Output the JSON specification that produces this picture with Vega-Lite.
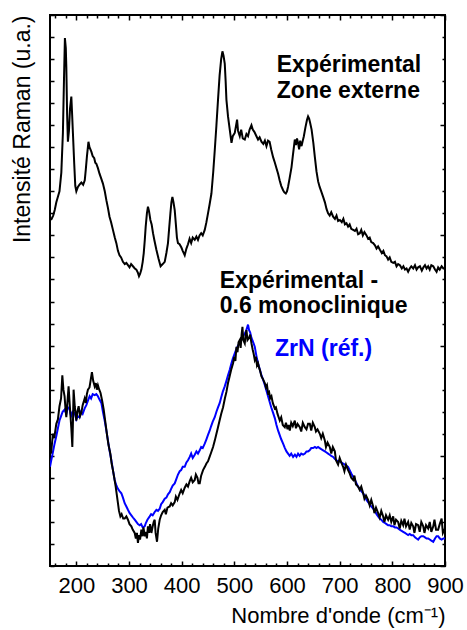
{
  "$schema": "https://vega.github.io/schema/vega-lite/v6.json",
  "width": 395,
  "height": 551,
  "autosize": "none",
  "padding": {"left": 50, "top": 15, "right": 22, "bottom": 64},
  "config": {
    "font": "Liberation Sans",
    "view": {"stroke": "black", "strokeWidth": 2},
    "axis": {"grid": false, "domain": false, "tickColor": "black", "tickWidth": 1.5, "labelColor": "black", "titleColor": "black"}
  },
  "datasets": {
    "top": [
      {"x":152,"y":3.14},{"x":156,"y":3.18},{"x":159,"y":3.23},{"x":162,"y":3.30},{"x":165,"y":3.35},{"x":168,"y":3.40},{"x":171.5,"y":3.57},{"x":174.5,"y":3.93},{"x":176.5,"y":4.4},{"x":178.3,"y":4.79},{"x":180,"y":4.7},{"x":181,"y":4.53},{"x":182.5,"y":4.1},{"x":184,"y":3.85},{"x":186,"y":3.95},{"x":188,"y":4.15},{"x":190.5,"y":4.26},{"x":192,"y":4.1},{"x":193.5,"y":3.93},{"x":196,"y":3.65},{"x":198,"y":3.45},{"x":200,"y":3.40},{"x":203,"y":3.44},{"x":206,"y":3.46},{"x":209.5,"y":3.48},{"x":213,"y":3.46},{"x":216,"y":3.50},{"x":218,"y":3.6},{"x":220,"y":3.71},{"x":223,"y":3.85},{"x":225,"y":3.80},{"x":228.5,"y":3.76},{"x":231,"y":3.72},{"x":234,"y":3.70},{"x":236,"y":3.66},{"x":238,"y":3.65},{"x":241,"y":3.61},{"x":244,"y":3.56},{"x":247,"y":3.52},{"x":250.5,"y":3.47},{"x":254,"y":3.40},{"x":257,"y":3.32},{"x":260,"y":3.25},{"x":263,"y":3.17},{"x":266,"y":3.12},{"x":269.5,"y":3.05},{"x":273,"y":2.98},{"x":276,"y":2.93},{"x":279,"y":2.86},{"x":282,"y":2.82},{"x":285,"y":2.80},{"x":288.5,"y":2.76},{"x":292,"y":2.74},{"x":295,"y":2.75},{"x":298,"y":2.73},{"x":301,"y":2.71},{"x":304,"y":2.74},{"x":307.5,"y":2.72},{"x":311,"y":2.70},{"x":314,"y":2.69},{"x":317,"y":2.66},{"x":319,"y":2.63},{"x":321,"y":2.65},{"x":323.5,"y":2.69},{"x":326,"y":2.76},{"x":328,"y":2.84},{"x":330,"y":2.96},{"x":331.7,"y":3.08},{"x":334,"y":3.2},{"x":336,"y":3.26},{"x":338,"y":3.22},{"x":340.6,"y":3.14},{"x":343,"y":3.10},{"x":345.6,"y":3.02},{"x":348,"y":2.96},{"x":352,"y":2.87},{"x":356,"y":2.79},{"x":360,"y":2.72},{"x":364,"y":2.74},{"x":367.8,"y":2.76},{"x":371,"y":2.84},{"x":374,"y":2.93},{"x":376,"y":3.05},{"x":378.6,"y":3.20},{"x":380.5,"y":3.30},{"x":382.4,"y":3.35},{"x":384.5,"y":3.30},{"x":386.8,"y":3.23},{"x":389,"y":3.10},{"x":391,"y":2.98},{"x":393,"y":2.93},{"x":396,"y":2.92},{"x":399.5,"y":2.89},{"x":402,"y":2.86},{"x":405.8,"y":2.82},{"x":409,"y":2.88},{"x":412,"y":2.92},{"x":415,"y":2.97},{"x":418,"y":2.93},{"x":421,"y":2.98},{"x":424.8,"y":2.96},{"x":428,"y":2.99},{"x":431,"y":2.96},{"x":434,"y":3.00},{"x":437,"y":3.02},{"x":440,"y":3.00},{"x":443.8,"y":3.05},{"x":447,"y":3.12},{"x":450,"y":3.20},{"x":453,"y":3.28},{"x":456.5,"y":3.38},{"x":460,"y":3.58},{"x":462.8,"y":3.77},{"x":466,"y":4.0},{"x":469,"y":4.23},{"x":472,"y":4.45},{"x":475,"y":4.6},{"x":477.4,"y":4.67},{"x":479.5,"y":4.63},{"x":481.8,"y":4.56},{"x":483.5,"y":4.4},{"x":485,"y":4.23},{"x":488,"y":4.08},{"x":491.3,"y":3.96},{"x":494.6,"y":3.84},{"x":497,"y":3.9},{"x":500.8,"y":3.93},{"x":503,"y":3.99},{"x":505.2,"y":4.05},{"x":507,"y":3.95},{"x":510.3,"y":3.90},{"x":513,"y":3.96},{"x":516,"y":3.88},{"x":519.8,"y":3.87},{"x":523,"y":3.92},{"x":526,"y":3.90},{"x":529,"y":3.96},{"x":532.5,"y":4.00},{"x":535,"y":3.96},{"x":538,"y":3.94},{"x":542,"y":3.90},{"x":545,"y":3.87},{"x":548,"y":3.89},{"x":551.5,"y":3.85},{"x":555,"y":3.83},{"x":558,"y":3.86},{"x":561,"y":3.81},{"x":564,"y":3.86},{"x":567,"y":3.85},{"x":570,"y":3.78},{"x":573.6,"y":3.71},{"x":577,"y":3.66},{"x":580,"y":3.61},{"x":583.1,"y":3.56},{"x":586,"y":3.50},{"x":589,"y":3.45},{"x":592.6,"y":3.41},{"x":595,"y":3.39},{"x":597.7,"y":3.38},{"x":600,"y":3.40},{"x":602,"y":3.44},{"x":605,"y":3.52},{"x":608.6,"y":3.62},{"x":611,"y":3.72},{"x":614.8,"y":3.87},{"x":617,"y":3.82},{"x":619,"y":3.88},{"x":621,"y":3.84},{"x":623,"y":3.78},{"x":625,"y":3.86},{"x":627.6,"y":3.81},{"x":630,"y":3.86},{"x":632,"y":3.90},{"x":635,"y":3.98},{"x":638,"y":4.05},{"x":640,"y":4.08},{"x":642,"y":4.06},{"x":644,"y":4.02},{"x":646.7,"y":3.96},{"x":650,"y":3.84},{"x":652.9,"y":3.71},{"x":656,"y":3.58},{"x":659.1,"y":3.49},{"x":662,"y":3.44},{"x":665,"y":3.40},{"x":668.6,"y":3.35},{"x":672,"y":3.30},{"x":675,"y":3.24},{"x":678,"y":3.20},{"x":681,"y":3.18},{"x":684,"y":3.21},{"x":687.6,"y":3.17},{"x":691,"y":3.15},{"x":694,"y":3.18},{"x":697,"y":3.13},{"x":700.4,"y":3.14},{"x":704,"y":3.12},{"x":707,"y":3.15},{"x":710,"y":3.10},{"x":713,"y":3.11},{"x":716,"y":3.08},{"x":719,"y":3.10},{"x":722,"y":3.06},{"x":725.6,"y":3.05},{"x":729,"y":3.04},{"x":732,"y":3.06},{"x":735,"y":3.01},{"x":738.3,"y":3.02},{"x":741,"y":3.05},{"x":744,"y":3.00},{"x":747,"y":3.03},{"x":751,"y":3.00},{"x":754,"y":2.97},{"x":757,"y":2.98},{"x":760,"y":2.94},{"x":763.6,"y":2.93},{"x":767,"y":2.91},{"x":770,"y":2.88},{"x":773,"y":2.90},{"x":776.4,"y":2.87},{"x":780,"y":2.84},{"x":783,"y":2.86},{"x":786,"y":2.82},{"x":789,"y":2.81},{"x":792,"y":2.78},{"x":795,"y":2.80},{"x":798,"y":2.76},{"x":801.7,"y":2.75},{"x":805,"y":2.76},{"x":808,"y":2.72},{"x":811,"y":2.74},{"x":814.4,"y":2.73},{"x":818,"y":2.70},{"x":821,"y":2.72},{"x":824,"y":2.69},{"x":827,"y":2.70},{"x":830,"y":2.67},{"x":833,"y":2.70},{"x":836,"y":2.72},{"x":839.7,"y":2.70},{"x":843,"y":2.73},{"x":846,"y":2.69},{"x":849,"y":2.71},{"x":852.4,"y":2.72},{"x":856,"y":2.68},{"x":859,"y":2.71},{"x":862,"y":2.73},{"x":865,"y":2.70},{"x":868,"y":2.72},{"x":871,"y":2.69},{"x":874,"y":2.73},{"x":877.7,"y":2.72},{"x":881,"y":2.69},{"x":884,"y":2.67},{"x":887,"y":2.71},{"x":890,"y":2.69},{"x":893.6,"y":2.72},{"x":897,"y":2.70},{"x":900,"y":2.70}
    ],
    "bottom": [
      {"x":152,"y":1.02},{"x":155.5,"y":1.20},{"x":158,"y":1.16},{"x":162,"y":1.29},{"x":165,"y":1.33},{"x":168,"y":1.45},{"x":171,"y":1.52},{"x":173.4,"y":1.73},{"x":175.5,"y":1.60},{"x":177.7,"y":1.54},{"x":179.5,"y":1.42},{"x":181,"y":1.35},{"x":183,"y":1.48},{"x":185.3,"y":1.63},{"x":187,"y":1.50},{"x":188.5,"y":1.39},{"x":190.5,"y":1.25},{"x":192.4,"y":1.08},{"x":193.8,"y":1.35},{"x":194.8,"y":1.60},{"x":197,"y":1.45},{"x":200,"y":1.32},{"x":202,"y":1.40},{"x":204.4,"y":1.45},{"x":207,"y":1.36},{"x":209.5,"y":1.39},{"x":212,"y":1.46},{"x":215.8,"y":1.52},{"x":218,"y":1.48},{"x":220,"y":1.56},{"x":222,"y":1.60},{"x":225,"y":1.62},{"x":227,"y":1.68},{"x":229.6,"y":1.76},{"x":232,"y":1.68},{"x":234.8,"y":1.63},{"x":237,"y":1.66},{"x":239,"y":1.60},{"x":241,"y":1.64},{"x":243.5,"y":1.60},{"x":246,"y":1.57},{"x":249,"y":1.50},{"x":251.9,"y":1.42},{"x":255,"y":1.31},{"x":258,"y":1.20},{"x":261,"y":1.10},{"x":264.6,"y":1.02},{"x":267,"y":0.93},{"x":269.5,"y":0.87},{"x":272,"y":0.80},{"x":274.7,"y":0.72},{"x":277,"y":0.64},{"x":279,"y":0.57},{"x":281,"y":0.50},{"x":283.6,"y":0.45},{"x":286,"y":0.47},{"x":289,"y":0.43},{"x":291.8,"y":0.43},{"x":295,"y":0.45},{"x":298,"y":0.42},{"x":301,"y":0.38},{"x":304.5,"y":0.36},{"x":307,"y":0.33},{"x":310.8,"y":0.30},{"x":313,"y":0.25},{"x":315,"y":0.30},{"x":317,"y":0.21},{"x":319,"y":0.28},{"x":321,"y":0.24},{"x":323.5,"y":0.33},{"x":325.5,"y":0.27},{"x":327.5,"y":0.35},{"x":329.8,"y":0.27},{"x":332,"y":0.31},{"x":334,"y":0.25},{"x":336,"y":0.36},{"x":338,"y":0.30},{"x":340,"y":0.38},{"x":342.5,"y":0.30},{"x":345,"y":0.36},{"x":347,"y":0.40},{"x":348.8,"y":0.42},{"x":350.5,"y":0.30},{"x":353.2,"y":0.22},{"x":355.5,"y":0.34},{"x":358.3,"y":0.42},{"x":361,"y":0.46},{"x":364,"y":0.49},{"x":367.8,"y":0.51},{"x":370,"y":0.47},{"x":373,"y":0.53},{"x":377.3,"y":0.54},{"x":380,"y":0.57},{"x":383,"y":0.55},{"x":386.8,"y":0.58},{"x":389,"y":0.63},{"x":392,"y":0.60},{"x":396.3,"y":0.66},{"x":399,"y":0.69},{"x":402,"y":0.66},{"x":405.8,"y":0.71},{"x":409,"y":0.74},{"x":412,"y":0.72},{"x":415.3,"y":0.77},{"x":418,"y":0.80},{"x":421,"y":0.76},{"x":424.8,"y":0.78},{"x":427,"y":0.83},{"x":430,"y":0.80},{"x":432,"y":0.75},{"x":434.3,"y":0.75},{"x":437,"y":0.82},{"x":440.6,"y":0.87},{"x":444,"y":0.90},{"x":447,"y":0.93},{"x":450,"y":0.95},{"x":453,"y":0.99},{"x":456,"y":1.03},{"x":459.6,"y":1.08},{"x":463,"y":1.14},{"x":466,"y":1.20},{"x":469,"y":1.26},{"x":472,"y":1.32},{"x":475,"y":1.38},{"x":478.6,"y":1.44},{"x":482,"y":1.52},{"x":485,"y":1.58},{"x":488,"y":1.66},{"x":491,"y":1.72},{"x":494,"y":1.78},{"x":497.6,"y":1.84},{"x":500,"y":1.90},{"x":502,"y":1.86},{"x":504,"y":1.99},{"x":506,"y":1.94},{"x":508,"y":2.03},{"x":510.3,"y":2.05},{"x":512,"y":1.98},{"x":513.8,"y":2.10},{"x":515.4,"y":2.17},{"x":517,"y":2.05},{"x":519.8,"y":2.02},{"x":521.5,"y":2.10},{"x":523,"y":2.14},{"x":525,"y":2.05},{"x":528,"y":2.07},{"x":530,"y":2.10},{"x":532.5,"y":2.02},{"x":535,"y":1.96},{"x":536.5,"y":1.93},{"x":538.8,"y":1.87},{"x":541,"y":1.90},{"x":543,"y":1.82},{"x":545,"y":1.84},{"x":547,"y":1.80},{"x":549,"y":1.77},{"x":551.5,"y":1.72},{"x":554,"y":1.70},{"x":557.8,"y":1.66},{"x":560,"y":1.62},{"x":562,"y":1.64},{"x":564,"y":1.57},{"x":566,"y":1.58},{"x":568,"y":1.52},{"x":570.5,"y":1.54},{"x":573,"y":1.48},{"x":576.8,"y":1.43},{"x":579,"y":1.44},{"x":582,"y":1.38},{"x":586.3,"y":1.32},{"x":589,"y":1.35},{"x":592,"y":1.28},{"x":595.8,"y":1.26},{"x":598,"y":1.30},{"x":601,"y":1.24},{"x":603,"y":1.28},{"x":605.3,"y":1.23},{"x":608,"y":1.30},{"x":611,"y":1.27},{"x":614.8,"y":1.32},{"x":617,"y":1.25},{"x":620,"y":1.29},{"x":624.3,"y":1.26},{"x":627,"y":1.22},{"x":630,"y":1.30},{"x":633.8,"y":1.26},{"x":637,"y":1.24},{"x":640,"y":1.29},{"x":643.3,"y":1.29},{"x":646,"y":1.23},{"x":649,"y":1.30},{"x":652.8,"y":1.26},{"x":655,"y":1.22},{"x":658,"y":1.24},{"x":662.3,"y":1.20},{"x":665,"y":1.16},{"x":668,"y":1.20},{"x":671.8,"y":1.14},{"x":674,"y":1.08},{"x":677,"y":1.12},{"x":681.3,"y":1.08},{"x":684,"y":1.02},{"x":687,"y":1.08},{"x":690.8,"y":1.04},{"x":693,"y":0.96},{"x":697,"y":0.92},{"x":700,"y":0.98},{"x":703,"y":0.94},{"x":706.6,"y":0.90},{"x":709,"y":0.86},{"x":712,"y":0.92},{"x":716,"y":0.87},{"x":719,"y":0.84},{"x":722,"y":0.80},{"x":725.6,"y":0.78},{"x":728,"y":0.82},{"x":731,"y":0.74},{"x":735,"y":0.72},{"x":738,"y":0.69},{"x":741,"y":0.72},{"x":744.6,"y":0.66},{"x":747,"y":0.61},{"x":750,"y":0.64},{"x":754,"y":0.60},{"x":757,"y":0.55},{"x":760,"y":0.60},{"x":763.6,"y":0.54},{"x":766,"y":0.48},{"x":769,"y":0.53},{"x":773,"y":0.48},{"x":776,"y":0.44},{"x":779,"y":0.50},{"x":782.6,"y":0.45},{"x":785,"y":0.40},{"x":788,"y":0.46},{"x":792,"y":0.42},{"x":795,"y":0.46},{"x":798,"y":0.40},{"x":801.6,"y":0.45},{"x":804,"y":0.37},{"x":807,"y":0.42},{"x":811,"y":0.40},{"x":814,"y":0.34},{"x":817,"y":0.41},{"x":820.6,"y":0.37},{"x":823,"y":0.43},{"x":826,"y":0.36},{"x":830,"y":0.40},{"x":833,"y":0.33},{"x":836,"y":0.39},{"x":839.6,"y":0.36},{"x":842,"y":0.30},{"x":845,"y":0.38},{"x":849,"y":0.37},{"x":852,"y":0.31},{"x":855,"y":0.40},{"x":858.7,"y":0.36},{"x":861,"y":0.30},{"x":864,"y":0.37},{"x":868,"y":0.34},{"x":871,"y":0.40},{"x":874,"y":0.31},{"x":877.7,"y":0.36},{"x":880,"y":0.42},{"x":883,"y":0.33},{"x":887,"y":0.33},{"x":890,"y":0.38},{"x":893.6,"y":0.43},{"x":896,"y":0.30},{"x":900,"y":0.34}
    ],
    "zrn": [
      {"x":150,"y":0.90},{"x":152,"y":0.95},{"x":155,"y":1.02},{"x":158.7,"y":1.11},{"x":162,"y":1.18},{"x":165,"y":1.25},{"x":168,"y":1.32},{"x":171,"y":1.36},{"x":174,"y":1.40},{"x":177.7,"y":1.42},{"x":181,"y":1.38},{"x":184,"y":1.44},{"x":187,"y":1.43},{"x":190,"y":1.36},{"x":193,"y":1.40},{"x":196.7,"y":1.39},{"x":200,"y":1.33},{"x":203,"y":1.36},{"x":206.2,"y":1.35},{"x":209,"y":1.40},{"x":212,"y":1.38},{"x":215.8,"y":1.43},{"x":219,"y":1.46},{"x":222,"y":1.50},{"x":225.3,"y":1.54},{"x":228,"y":1.52},{"x":231,"y":1.56},{"x":234.8,"y":1.55},{"x":238,"y":1.56},{"x":241,"y":1.54},{"x":244,"y":1.51},{"x":247.5,"y":1.48},{"x":250.5,"y":1.40},{"x":253.8,"y":1.32},{"x":257,"y":1.23},{"x":260,"y":1.14},{"x":263,"y":1.05},{"x":266.5,"y":0.96},{"x":269.5,"y":0.87},{"x":272.8,"y":0.78},{"x":276,"y":0.73},{"x":279,"y":0.70},{"x":282,"y":0.68},{"x":285.5,"y":0.66},{"x":288.5,"y":0.62},{"x":291.8,"y":0.57},{"x":295,"y":0.54},{"x":298,"y":0.51},{"x":301.3,"y":0.48},{"x":304.5,"y":0.46},{"x":307.5,"y":0.44},{"x":310.8,"y":0.42},{"x":314,"y":0.40},{"x":317,"y":0.38},{"x":320.3,"y":0.37},{"x":323,"y":0.38},{"x":326,"y":0.35},{"x":329.8,"y":0.36},{"x":332,"y":0.39},{"x":335,"y":0.42},{"x":339.3,"y":0.45},{"x":342,"y":0.47},{"x":345,"y":0.46},{"x":348.8,"y":0.49},{"x":352,"y":0.51},{"x":355,"y":0.50},{"x":358.3,"y":0.52},{"x":361,"y":0.56},{"x":364,"y":0.58},{"x":367.8,"y":0.61},{"x":371,"y":0.62},{"x":374,"y":0.65},{"x":377.3,"y":0.67},{"x":380,"y":0.70},{"x":383,"y":0.73},{"x":386.8,"y":0.75},{"x":390,"y":0.79},{"x":393,"y":0.83},{"x":396.3,"y":0.86},{"x":399,"y":0.87},{"x":402,"y":0.90},{"x":405.8,"y":0.90},{"x":409,"y":0.94},{"x":412,"y":0.96},{"x":415.3,"y":0.99},{"x":418,"y":1.02},{"x":421,"y":0.98},{"x":424.8,"y":1.01},{"x":428,"y":1.04},{"x":431,"y":1.02},{"x":434.3,"y":1.05},{"x":437,"y":1.08},{"x":440,"y":1.07},{"x":443.8,"y":1.11},{"x":447,"y":1.15},{"x":450,"y":1.19},{"x":453.3,"y":1.23},{"x":456,"y":1.27},{"x":459,"y":1.31},{"x":462.8,"y":1.35},{"x":466,"y":1.40},{"x":469,"y":1.44},{"x":472.3,"y":1.48},{"x":475,"y":1.53},{"x":478,"y":1.58},{"x":481.8,"y":1.63},{"x":485,"y":1.68},{"x":488,"y":1.73},{"x":491.3,"y":1.78},{"x":494,"y":1.83},{"x":497,"y":1.88},{"x":500.8,"y":1.93},{"x":504,"y":1.97},{"x":507,"y":2.00},{"x":510.3,"y":2.02},{"x":513,"y":2.05},{"x":516,"y":2.08},{"x":519.8,"y":2.11},{"x":522,"y":2.13},{"x":524,"y":2.16},{"x":526,"y":2.19},{"x":528,"y":2.14},{"x":530,"y":2.12},{"x":532.5,"y":2.07},{"x":535,"y":2.04},{"x":538.8,"y":1.99},{"x":541,"y":1.93},{"x":543,"y":1.88},{"x":545,"y":1.84},{"x":548,"y":1.79},{"x":551,"y":1.74},{"x":554.6,"y":1.69},{"x":558,"y":1.64},{"x":561,"y":1.59},{"x":564,"y":1.54},{"x":567,"y":1.49},{"x":570,"y":1.44},{"x":573.6,"y":1.39},{"x":577,"y":1.34},{"x":580,"y":1.28},{"x":583,"y":1.23},{"x":586,"y":1.19},{"x":589,"y":1.15},{"x":592.6,"y":1.11},{"x":596,"y":1.07},{"x":599,"y":1.04},{"x":602,"y":1.02},{"x":605,"y":1.00},{"x":608,"y":1.02},{"x":611.6,"y":0.99},{"x":615,"y":1.01},{"x":618,"y":0.99},{"x":621,"y":1.02},{"x":624,"y":1.00},{"x":627,"y":1.02},{"x":630.6,"y":1.01},{"x":634,"y":1.02},{"x":637,"y":1.04},{"x":640,"y":1.04},{"x":643,"y":1.05},{"x":646,"y":1.07},{"x":649.6,"y":1.07},{"x":653,"y":1.08},{"x":656,"y":1.07},{"x":659,"y":1.08},{"x":662,"y":1.07},{"x":665,"y":1.06},{"x":668.6,"y":1.05},{"x":672,"y":1.04},{"x":675,"y":1.03},{"x":678,"y":1.02},{"x":681,"y":1.01},{"x":684,"y":1.00},{"x":687.6,"y":0.99},{"x":691,"y":0.97},{"x":694,"y":0.96},{"x":697,"y":0.95},{"x":700,"y":0.95},{"x":703,"y":0.94},{"x":706.6,"y":0.93},{"x":710,"y":0.92},{"x":713,"y":0.91},{"x":716,"y":0.90},{"x":719,"y":0.87},{"x":722,"y":0.84},{"x":725.6,"y":0.81},{"x":729,"y":0.78},{"x":732,"y":0.75},{"x":735,"y":0.72},{"x":738,"y":0.70},{"x":741,"y":0.68},{"x":744.6,"y":0.66},{"x":748,"y":0.63},{"x":751,"y":0.60},{"x":754,"y":0.58},{"x":757,"y":0.56},{"x":760,"y":0.54},{"x":763.6,"y":0.52},{"x":767,"y":0.50},{"x":770,"y":0.47},{"x":773,"y":0.45},{"x":776,"y":0.43},{"x":779,"y":0.42},{"x":782.6,"y":0.40},{"x":786,"y":0.39},{"x":789,"y":0.38},{"x":792,"y":0.37},{"x":795,"y":0.37},{"x":798,"y":0.36},{"x":801.6,"y":0.36},{"x":805,"y":0.35},{"x":808,"y":0.35},{"x":811,"y":0.34},{"x":814,"y":0.33},{"x":817,"y":0.32},{"x":820.6,"y":0.31},{"x":824,"y":0.30},{"x":827,"y":0.29},{"x":830,"y":0.28},{"x":833,"y":0.29},{"x":836,"y":0.28},{"x":839.6,"y":0.28},{"x":843,"y":0.26},{"x":846,"y":0.25},{"x":849,"y":0.24},{"x":852,"y":0.26},{"x":855,"y":0.27},{"x":858.7,"y":0.27},{"x":862,"y":0.26},{"x":865,"y":0.25},{"x":868,"y":0.25},{"x":871,"y":0.24},{"x":874,"y":0.23},{"x":877.7,"y":0.22},{"x":881,"y":0.25},{"x":884,"y":0.27},{"x":887,"y":0.27},{"x":890,"y":0.25},{"x":893.6,"y":0.24},{"x":897,"y":0.25},{"x":900,"y":0.25}
    ],
    "labels": [
      {"label": "Expérimental", "x": 580.6, "y": 4.48, "series": "exp"},
      {"label": "Zone externe", "x": 580.6, "y": 4.25, "series": "exp"},
      {"label": "Expérimental -", "x": 472.3, "y": 2.52, "series": "exp"},
      {"label": "0.6 monoclinique", "x": 472.3, "y": 2.30, "series": "exp"},
      {"label": "ZrN (réf.)", "x": 577.3, "y": 1.91, "series": "ref"}
    ]
  },
  "layer": [
    {
      "data": {"name": "zrn"},
      "mark": {"type": "line", "color": "#0000ff", "strokeWidth": 2, "clip": true},
      "encoding": {
        "x": {"field": "x", "type": "quantitative", "scale": {"domain": [150, 900], "nice": false},
          "axis": {"orient": "bottom", "values": [160,180,200,220,240,260,280,300,320,340,360,380,400,420,440,460,480,500,520,540,560,580,600,620,640,660,680,700,720,740,760,780,800,820,840,860,880,900],
            "labelExpr": "datum.value % 100 === 0 ? datum.label : ''",
            "tickSize": {"condition": {"test": "datum.value % 100 === 0", "value": -5}, "value": -3},
            "labelFontSize": 22, "labelPadding": 14, "labelOverlap": false, "labelFlush": false,
            "title": "Nombre d'onde (cm⁻¹)", "titleFontSize": 22, "titleFontWeight": "normal", "titleAnchor": "end", "titlePadding": 7}},
        "y": {"field": "y", "type": "quantitative", "scale": {"domain": [0, 5], "nice": false},
          "axis": {"orient": "left", "values": [0,0.2,0.4,0.6,0.8,1,1.2,1.4,1.6,1.8,2,2.2,2.4,2.6,2.8,3,3.2,3.4,3.6,3.8,4,4.2,4.4,4.6,4.8,5],
            "labels": false, "tickSize": -4,
            "title": "Intensité Raman (u.a.)", "titleFontSize": 23, "titleFontWeight": "normal", "titleAnchor": "end", "titlePadding": 15}}
      }
    },
    {
      "data": {"name": "bottom"},
      "mark": {"type": "line", "color": "black", "strokeWidth": 2, "clip": true},
      "encoding": {
        "x": {"field": "x", "type": "quantitative", "axis": null},
        "y": {"field": "y", "type": "quantitative", "axis": null}
      }
    },
    {
      "data": {"name": "top"},
      "mark": {"type": "line", "color": "black", "strokeWidth": 2, "clip": true},
      "encoding": {
        "x": {"field": "x", "type": "quantitative",
          "axis": {"orient": "top", "values": [160,180,200,220,240,260,280,300,320,340,360,380,400,420,440,460,480,500,520,540,560,580,600,620,640,660,680,700,720,740,760,780,800,820,840,860,880,900],
            "labels": false, "title": null,
            "tickSize": {"condition": {"test": "datum.value % 100 === 0", "value": -5}, "value": -3}}},
        "y": {"field": "y", "type": "quantitative",
          "axis": {"orient": "right", "values": [0,0.2,0.4,0.6,0.8,1,1.2,1.4,1.6,1.8,2,2.2,2.4,2.6,2.8,3,3.2,3.4,3.6,3.8,4,4.2,4.4,4.6,4.8,5],
            "labels": false, "title": null,
            "tickSize": {"condition": {"test": "abs(datum.value - round(datum.value)) < 0.01", "value": -5}, "value": -3}}}
      }
    },
    {
      "data": {"name": "labels"},
      "mark": {"type": "text", "fontWeight": "bold", "fontSize": 23, "align": "left", "baseline": "alphabetic"},
      "encoding": {
        "x": {"field": "x", "type": "quantitative", "axis": null},
        "y": {"field": "y", "type": "quantitative", "axis": null},
        "text": {"field": "label"},
        "color": {"field": "series", "type": "nominal", "scale": {"domain": ["exp", "ref"], "range": ["black", "#0000ff"]}, "legend": null}
      }
    }
  ],
  "resolve": {"axis": {"x": "independent", "y": "independent"}}
}
